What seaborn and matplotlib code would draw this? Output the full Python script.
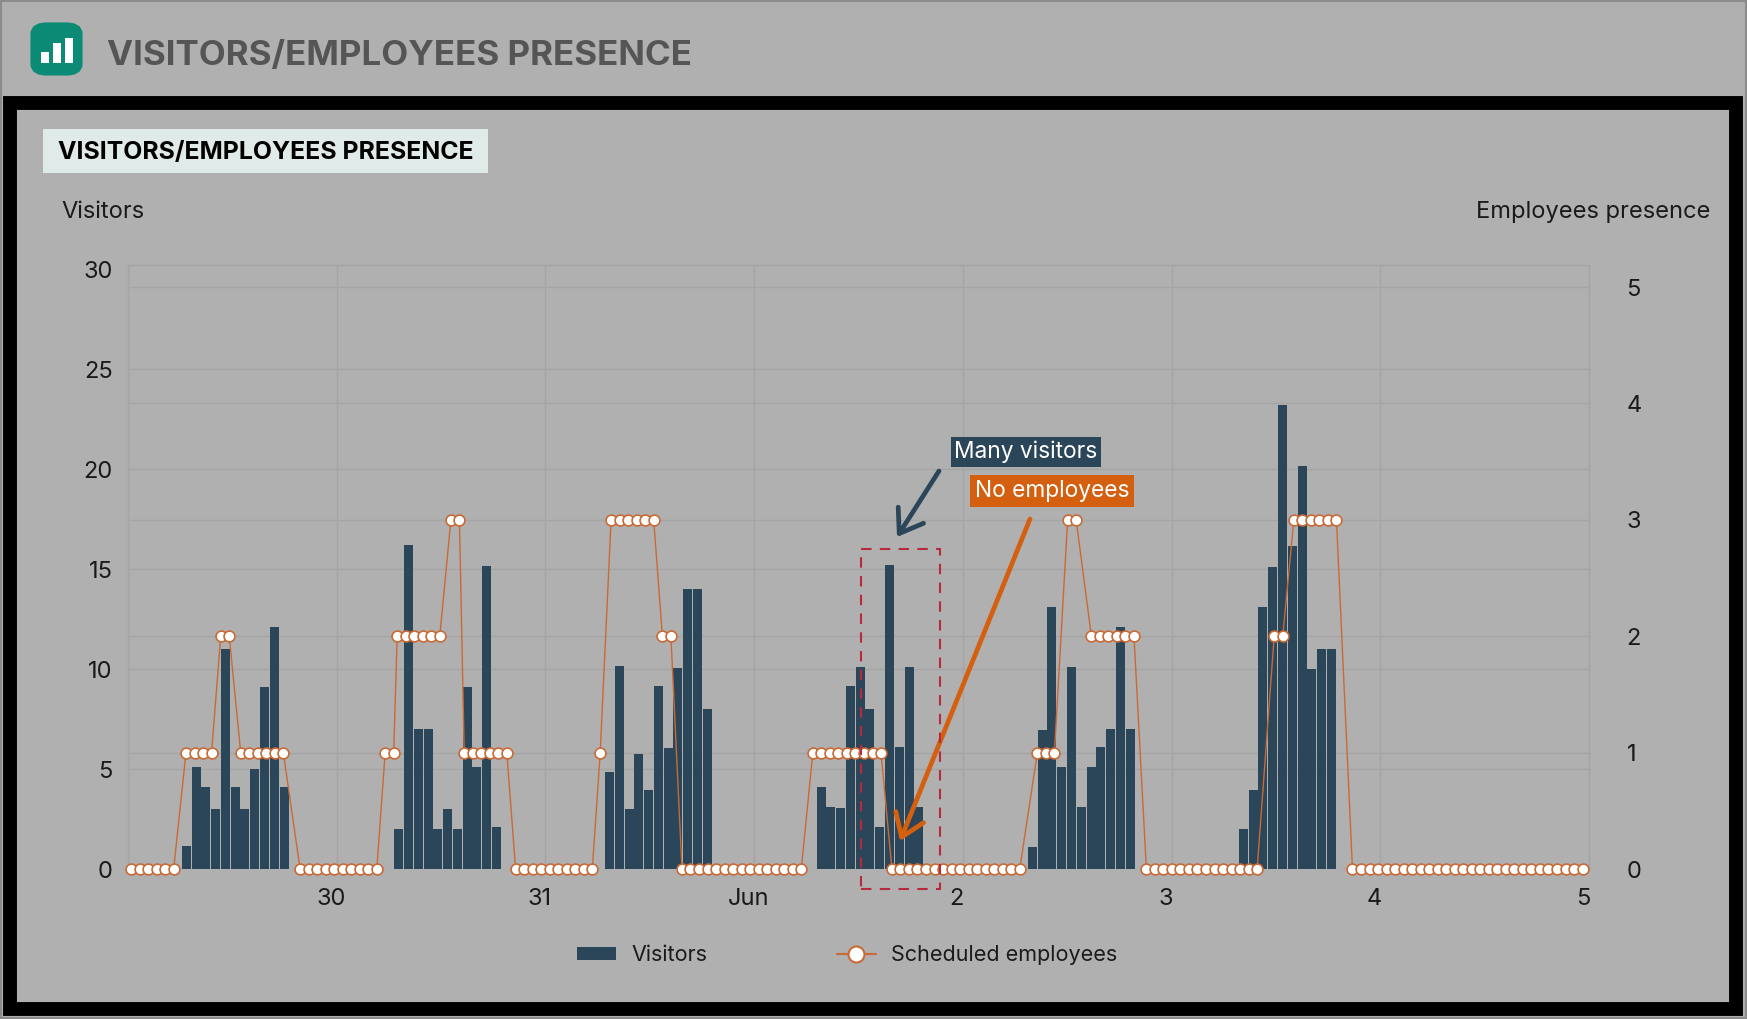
import numpy as np
import pandas as pd
import seaborn as sns
import matplotlib
matplotlib.use('Agg')
import matplotlib.pyplot as plt
from matplotlib.lines import Line2D
from matplotlib.patches import Patch, Rectangle, FancyBboxPatch
from matplotlib.transforms import ScaledTranslation

W, H = 1747, 1019
BG = '#b0b0b0'
NAVY = '#2b4659'
ORANGE = '#c96a36'
ORANGE2 = '#d4600f'
RED = '#b52a3c'
GRID = '#a5a5a5'
INK = '#1a1a1a'

# hours since 29 May 00:00 for the first bar of each day
visit_start = [6.7, 31.13, 55.37, 79.7, 104.0, 128.26]
visit_step = 1.124
day1 = [1.15, 5.1, 4.1, 3.0, 11.0, 4.1, 3.0, 5.0, 9.1, 12.1, 4.1]
day2 = [2.0, 16.2, 7.0, 7.0, 2.0, 3.0, 2.0, 9.1, 5.1, 15.15, 2.1]
day3 = [4.85, 10.15, 3.0, 5.75, 3.97, 9.17, 6.05, 10.05, 14.0, 14.0, 8.0]
day4 = [4.1, 3.1, 3.03, 9.13, 10.1, 8.0, 2.08, 15.18, 6.1, 10.08, 3.1]
day5 = [1.12, 6.95, 13.1, 5.1, 10.1, 3.1, 5.1, 6.1, 7.0, 12.1, 7.0]
day6 = [1.98, 3.95, 13.1, 15.1, 23.2, 16.15, 20.15, 10.0, 11.0, 11.0]
visit_days = [day1, day2, day3, day4, day5, day6]

# scheduled employees, one run per staffing level
emp_start = [0.35, 6.67, 10.66, 12.96, 19.79, 29.57, 30.95, 37.13, 38.66, 44.57, 54.3, 55.55,
             61.45, 63.7, 78.75, 87.84, 104.57, 108.05, 110.78, 117.1, 131.8, 134.06, 140.8]
emp_count = [6, 4, 2, 6, 10, 2, 6, 2, 6, 10, 1, 6, 2, 15, 9, 16, 3, 2, 6, 14, 2, 6, 28]
emp_level = [0, 1, 2, 1, 0, 1, 2, 3, 1, 0, 1, 3, 2, 0, 1, 0, 1, 3, 2, 0, 2, 3, 0]
emp_step = 0.98

day_ticks = [24, 48, 72, 96, 120, 144, 168]
day_labels = ['30', '31', 'Jun', '2', '3', '4', '5']
left_ticks = [0, 5, 10, 15, 20, 25, 30]
right_ticks = [0, 1, 2, 3, 4, 5]

visit_x = []
visit_y = []
for s, vals in zip(visit_start, visit_days):
    for i, v in enumerate(vals):
        visit_x.append(round(s + i * visit_step, 3))
        visit_y.append(v)
df_visit = pd.DataFrame({'hour': visit_x, 'visitors': visit_y})

emp_x = []
emp_y = []
for s, n, lev in zip(emp_start, emp_count, emp_level):
    for i in range(n):
        emp_x.append(round(s + i * emp_step, 3))
        emp_y.append(lev)
df_emp = pd.DataFrame({'hour': emp_x, 'employees': emp_y})

sns.set_theme(style='white')
plt.rcParams['font.family'] = ['Inter', 'DejaVu Sans']
plt.rcParams['figure.facecolor'] = BG
plt.rcParams['savefig.facecolor'] = BG


def fx(x):
    return x / W


def fy(y):
    return 1 - y / H


fig = plt.figure(figsize=(W / 100, H / 100), dpi=100)

# page frame and header
fig.add_artist(Rectangle((fx(1), fy(H - 1)), fx(W - 2), 1 - 2 / H, transform=fig.transFigure,
                         fill=False, ec='#8c8c8c', lw=1.5))
frame = Rectangle((fx(9.7), fy(1008.5)), fx(1736 - 9.7), (1008.5 - 102.5) / H, transform=fig.transFigure,
                  fill=False, ec='black', lw=10)
fig.add_artist(frame)
icon = FancyBboxPatch((fx(36), fy(70)), fx(41), 42 / H, transform=fig.transFigure,
                      boxstyle='round,pad=0,rounding_size=0.006', mutation_aspect=1,
                      fc='#0b8a75', ec='#0b8a75', lw=8)
fig.add_artist(icon)
for x0, top in [(41, 52), (53, 43), (65, 38)]:
    fig.add_artist(Rectangle((fx(x0), fy(63)), fx(7.5), (63 - top) / H,
                             transform=fig.transFigure, fc='white', ec='none'))
fig.text(fx(107), fy(56), 'VISITORS/EMPLOYEES PRESENCE', color='#555555', fontsize=25.2,
         fontweight='bold', ha='left', va='center')
fig.add_artist(Rectangle((fx(43), fy(173)), fx(445), 44 / H, transform=fig.transFigure,
                         fc='#e0eae8', ec='none'))
fig.text(fx(58), fy(152), 'VISITORS/EMPLOYEES PRESENCE', color='black', fontsize=17.9,
         fontweight='bold', ha='left', va='center')
fig.text(fx(61), fy(212), 'Visitors', color=INK, fontsize=17, ha='left', va='center')
fig.text(fx(1710), fy(212), 'Employees presence', color=INK, fontsize=17, ha='right', va='center')

ax = fig.add_axes([fx(128), fy(869), fx(1589 - 128), (869 - 265) / H])
ax.set_facecolor('none')
sns.barplot(data=df_visit, x='hour', y='visitors', native_scale=True, color=NAVY, saturation=1,
            width=0.92, errorbar=None, ax=ax, linewidth=0)
ax.set_xlim(0, 168)
ax.set_ylim(0, 30.2)
ax.set_xlabel('')
ax.set_ylabel('')
ax.set_yticks(left_ticks)
ax.set_yticklabels([str(t) for t in left_ticks])
ax.set_xticks([0] + day_ticks)
ax.set_xticklabels([''] + day_labels)
ax.set_axisbelow(True)
ax.grid(True, color=GRID, lw=1)
ax.yaxis.get_major_ticks()[-1].gridline.set_visible(False)
# right axis grid lives on the left axes so it stays behind the bars
ax.set_yticks([t * 30.2 / 5.19 for t in right_ticks[1:]], minor=True)
ax.grid(True, which='minor', axis='y', color=GRID, lw=1)
ax.tick_params(axis='both', which='both', length=0)
ax.tick_params(axis='y', labelsize=17, labelcolor=INK, pad=11)
ax.tick_params(axis='x', labelsize=17, labelcolor=INK, pad=14)
for lab in ax.get_xticklabels():
    lab.set_transform(lab.get_transform() + ScaledTranslation(-6 / 100, 0, fig.dpi_scale_trans))
for s in ax.spines.values():
    s.set_color(GRID)
    s.set_linewidth(1)
ax.spines['bottom'].set_visible(False)

ax2 = ax.twinx()
sns.lineplot(data=df_emp, x='hour', y='employees', color=ORANGE, lw=1, marker='o', markersize=7.8,
             markerfacecolor='white', markeredgecolor=ORANGE, markeredgewidth=1.2,
             errorbar=None, ax=ax2, legend=False, clip_on=False)
ax2.set_ylim(0, 5.19)
ax2.set_ylabel('')
ax2.set_yticks(right_ticks)
ax2.set_yticklabels([str(t) for t in right_ticks])
ax2.tick_params(axis='y', length=0, labelsize=17, labelcolor=INK, pad=27)
ax2.grid(False)
for s in ax2.spines.values():
    s.set_visible(False)

# annotations on top of the chart
fig.add_artist(Rectangle((fx(861), fy(889)), fx(79), 340 / H, transform=fig.transFigure,
                         fill=False, ec=RED, lw=1.5, ls=(0, (5, 4))))
fig.text(fx(1026), fy(452), 'Many visitors', color='white', fontsize=16.4, ha='center', va='center',
         bbox=dict(fc=NAVY, ec='none', pad=2.8))
fig.text(fx(1052), fy(491), 'No employees', color='white', fontsize=16.4, ha='center', va='center',
         bbox=dict(fc=ORANGE2, ec='none', pad=3.2))
fig_ann = fig.add_axes([0, 0, 1, 1], facecolor='none')
fig_ann.set_axis_off()
fig_ann.annotate('', xy=(fx(897), fy(537)), xytext=(fx(939), fy(471)), xycoords='axes fraction',
                 textcoords='axes fraction',
                 arrowprops=dict(arrowstyle='->,head_length=1.3,head_width=0.9', color=NAVY, lw=3.4,
                                 shrinkA=0, shrinkB=0, mutation_scale=12))
fig_ann.annotate('', xy=(fx(900), fy(841)), xytext=(fx(1030), fy(519)), xycoords='axes fraction',
                 textcoords='axes fraction',
                 arrowprops=dict(arrowstyle='->,head_length=1.3,head_width=0.9', color=ORANGE2, lw=3.4,
                                 shrinkA=0, shrinkB=0, mutation_scale=12))

handles = [Patch(fc=NAVY, ec='none', label='Visitors'),
           Line2D([], [], color=ORANGE, lw=1.5, marker='o', markersize=11.5, markerfacecolor='white',
                  markeredgecolor=ORANGE, markeredgewidth=1.5, label='Scheduled employees')]
fig.legend(handles=handles, ncols=2, frameon=False, loc='center left',
           bbox_to_anchor=(fx(558), fy(955)), fontsize=15.5, labelcolor=INK,
           handlelength=1.8, handleheight=0.6, handletextpad=0.72, columnspacing=6.0)

fig.savefig('out.png', dpi=100)
